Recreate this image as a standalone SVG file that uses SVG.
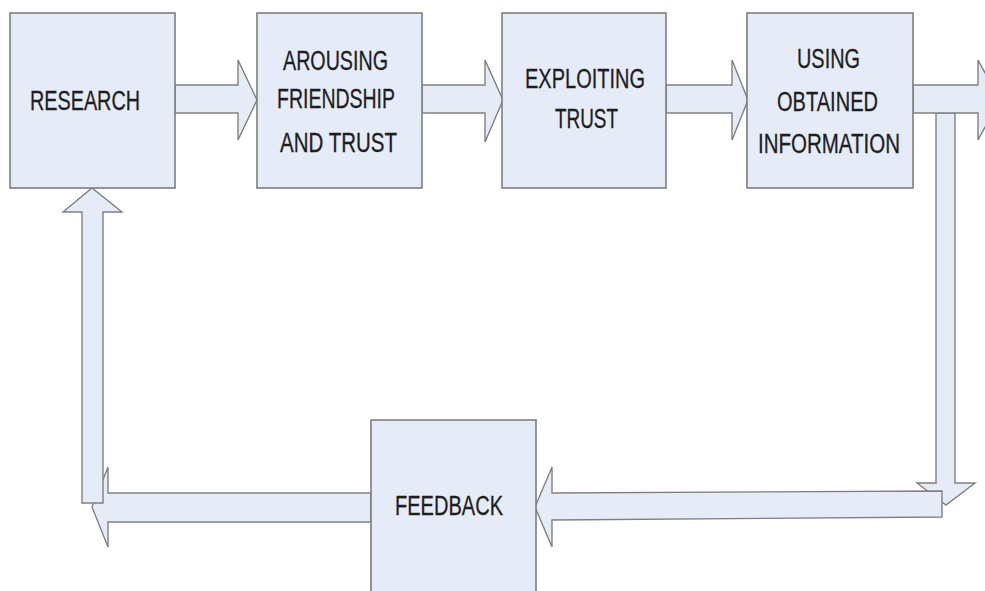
<svg xmlns="http://www.w3.org/2000/svg" width="985" height="591" viewBox="0 0 985 591">
<style>
.box{fill:#e5ebf7;stroke:#7d7d7d;stroke-width:1.6}
.arr{fill:#e5ebf7;stroke:#808080;stroke-width:1.4;stroke-linejoin:miter}
.t{font-family:"Liberation Sans",Arial,sans-serif;font-size:27px;fill:#1e1e1e;stroke:#1e1e1e;stroke-width:0.3;text-anchor:start}
</style>
<rect width="985" height="591" fill="#ffffff"/>
<g id="connectors">
<polygon class="arr" points="936,113 955,113 955,483 975,483 946,505 917,483 936,483"/>
<polygon class="arr" points="175,85 238,85 238,60 257,100 238,140 238,113 175,113"/>
<polygon class="arr" points="422,85 485,85 485,60 503,100 485,142 485,113 422,113"/>
<polygon class="arr" points="666,85 732,85 732,60 748,100 732,140 732,113 666,113"/>
<polygon class="arr" points="913,85 978,85 978,60 1000,100 978,140 978,113 913,113"/>
<polygon class="arr" points="942,491 552,493 552,467 535,507 552,547 552,520 942,517"/>
<polygon class="arr" points="371,493 108,493 108,467 92,507 108,547 108,522 371,522"/>
<polygon class="arr" points="82,503 82,212 63,212 92,188 122,212 103,212 103,503"/>
</g>
<g id="research">
<rect class="box" x="10" y="13" width="165" height="175"/>
<text class="t" x="30" y="110" textLength="110" lengthAdjust="spacingAndGlyphs">RESEARCH</text>
</g>
<g id="arousing">
<rect class="box" x="257" y="13" width="165" height="175"/>
<text class="t" x="283" y="70" textLength="105" lengthAdjust="spacingAndGlyphs">AROUSING</text>
<text class="t" x="277" y="108" textLength="118" lengthAdjust="spacingAndGlyphs">FRIENDSHIP</text>
<text class="t" x="280" y="152" textLength="117" lengthAdjust="spacingAndGlyphs">AND  TRUST</text>
</g>
<g id="exploiting">
<rect class="box" x="502" y="13" width="164" height="175"/>
<text class="t" x="525" y="88" textLength="120" lengthAdjust="spacingAndGlyphs">EXPLOITING</text>
<text class="t" x="555" y="128" textLength="63" lengthAdjust="spacingAndGlyphs">TRUST</text>
</g>
<g id="using">
<rect class="box" x="747" y="13" width="166" height="175"/>
<text class="t" x="797" y="68" textLength="63" lengthAdjust="spacingAndGlyphs">USING</text>
<text class="t" x="777" y="111" textLength="101" lengthAdjust="spacingAndGlyphs">OBTAINED</text>
<text class="t" x="758" y="153" textLength="142" lengthAdjust="spacingAndGlyphs">INFORMATION</text>
</g>
<g id="feedback">
<rect class="box" x="371" y="420" width="165" height="185"/>
<text class="t" x="395" y="515" textLength="108" lengthAdjust="spacingAndGlyphs">FEEDBACK</text>
</g>
</svg>
